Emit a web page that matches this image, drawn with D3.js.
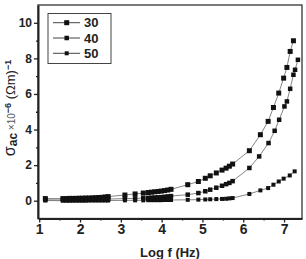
<!DOCTYPE html>
<html>
<head>
<meta charset="utf-8">
<script src="https://cdn.jsdelivr.net/npm/d3@7"></script>
<style>
  body { margin: 0; background: #fff; }
  svg { display: block; }
</style>
</head>
<body>
<svg id="chart" width="306" height="259"></svg>
<script>
// shared frequency points (log f) up to ~5.7
var logF = [1.15, 1.58, 1.66, 1.74, 1.82, 1.90, 1.98, 2.06, 2.14, 2.22, 2.30, 2.38, 2.46, 2.54, 2.62, 2.69,
            3.10, 3.35, 3.55, 3.67, 3.75, 3.83, 3.91, 3.99, 4.07, 4.15, 4.23,
            4.64, 4.90, 5.07, 5.19, 5.34, 5.48, 5.58, 5.66, 5.74];

var sigma30 = [0.12, 0.12, 0.12, 0.13, 0.13, 0.13, 0.14, 0.14, 0.15, 0.15, 0.16, 0.17, 0.18, 0.19, 0.21, 0.23,
               0.32, 0.38, 0.43, 0.46, 0.48, 0.50, 0.52, 0.54, 0.57, 0.60, 0.64,
               0.90, 1.08, 1.26, 1.40, 1.56, 1.72, 1.83, 1.94, 2.06];
var sigma40 = [0.05, 0.04, 0.04, 0.04, 0.05, 0.05, 0.05, 0.05, 0.06, 0.06, 0.06, 0.07, 0.07, 0.08, 0.08, 0.09,
               0.12, 0.13, 0.15, 0.16, 0.17, 0.18, 0.19, 0.20, 0.22, 0.24, 0.26,
               0.34, 0.43, 0.53, 0.62, 0.73, 0.84, 0.93, 1.00, 1.10];
var sigma50 = [0.01, 0.00, 0.00, 0.00, 0.00, 0.00, 0.00, 0.00, 0.00, 0.01, 0.01, 0.01, 0.01, 0.01, 0.01, 0.01,
               0.02, 0.02, 0.02, 0.03, 0.03, 0.03, 0.03, 0.03, 0.04, 0.04, 0.04,
               0.05, 0.06, 0.07, 0.08, 0.09, 0.10, 0.11, 0.13, 0.15];

// high frequency tails, each series its own points
var tailF30 = [6.15, 6.42, 6.61, 6.74, 6.87, 6.99, 7.07, 7.15, 7.23];
var tail30  = [2.81, 3.71, 4.46, 5.24, 6.05, 6.89, 7.49, 8.39, 8.99];
var tailF40 = [6.15, 6.39, 6.62, 6.77, 6.88, 7.01, 7.07, 7.15, 7.23, 7.27, 7.34];
var tail40  = [1.84, 2.49, 3.24, 3.93, 4.55, 5.30, 5.58, 6.29, 7.08, 7.36, 7.92];
var tailF50 = [6.15, 6.42, 6.61, 6.74, 6.87, 6.99, 7.14, 7.26];
var tail50  = [0.38, 0.58, 0.71, 0.90, 1.08, 1.24, 1.42, 1.65];

var seriesNames = ["30", "40", "50"];
var xTicks = [1, 2, 3, 4, 5, 6, 7];
var yTicks = [0, 2, 4, 6, 8, 10];

// build point lists
function pts(xs, ys){ return xs.map(function(x, i){ return {x: x, y: ys[i]}; }); }
var series = [
  {name: seriesNames[0], size: 5,   pts: pts(logF, sigma30).concat(pts(tailF30, tail30))},
  {name: seriesNames[1], size: 4.5, pts: pts(logF, sigma40).concat(pts(tailF40, tail40))},
  {name: seriesNames[2], size: 4,   pts: pts(logF, sigma50).concat(pts(tailF50, tail50))}
];

// plot area (don't call it "top", that's window.top)
var pLeft = 38, pRight = 302, pTop = 5, pBottom = 218.5;
var svg = d3.select("#chart");

var x = d3.scaleLinear().domain([0.97, 7.44]).range([pLeft, pRight]);
var y = d3.scaleLinear().domain([-1, 11]).range([pBottom, pTop]);

// frame
svg.append("rect")
  .attr("x", pLeft).attr("y", pTop)
  .attr("width", pRight - pLeft).attr("height", pBottom - pTop)
  .attr("fill", "none").attr("stroke", "#333").attr("stroke-width", 1.3);

// y axis, major + minor
var yAx = svg.append("g").attr("transform", "translate(" + pLeft + ",0)")
  .call(d3.axisLeft(y).tickValues(yTicks).tickFormat(d3.format("d")).tickSize(4).tickPadding(2).tickSizeOuter(0));
svg.append("g").attr("transform", "translate(" + pLeft + ",0)")
  .call(d3.axisLeft(y).tickValues([1, 3, 5, 7, 9]).tickSize(2).tickFormat("").tickSizeOuter(0))
  .select(".domain").remove();

// x axis, major + minor
var xAx = svg.append("g").attr("transform", "translate(0," + pBottom + ")")
  .call(d3.axisBottom(x).tickValues(xTicks).tickFormat(d3.format("d")).tickSize(4).tickPadding(2).tickSizeOuter(0));
svg.append("g").attr("transform", "translate(0," + pBottom + ")")
  .call(d3.axisBottom(x).tickValues([1.5, 2.5, 3.5, 4.5, 5.5, 6.5]).tickSize(2).tickFormat("").tickSizeOuter(0))
  .select(".domain").remove();

svg.selectAll(".domain").attr("stroke", "#222").attr("stroke-width", 2);
svg.selectAll(".tick line").attr("stroke", "#222").attr("stroke-width", 1.3);

yAx.selectAll("text")
  .attr("font-family", "Liberation Sans, Arial, sans-serif")
  .attr("font-weight", "bold").attr("font-size", 12).attr("fill", "#222");
xAx.selectAll("text")
  .attr("font-family", "Liberation Sans, Arial, sans-serif")
  .attr("font-weight", "bold").attr("font-size", 14).attr("fill", "#222");

// lines and markers
var line = d3.line().x(function(d){ return x(d.x); }).y(function(d){ return y(d.y); });
series.forEach(function(s){
  svg.append("path").datum(s.pts)
    .attr("d", line).attr("fill", "none")
    .attr("stroke", "#666").attr("stroke-width", 0.8);
});
series.forEach(function(s){
  svg.append("g").selectAll("rect").data(s.pts).enter().append("rect")
    .attr("x", function(d){ return x(d.x) - s.size / 2; })
    .attr("y", function(d){ return y(d.y) - s.size / 2; })
    .attr("width", s.size).attr("height", s.size)
    .attr("fill", "#111");
});

// legend
var lg = svg.append("g");
lg.append("rect").attr("x", 48).attr("y", 13.5).attr("width", 63).attr("height", 50)
  .attr("fill", "#fff").attr("stroke", "#444").attr("stroke-width", 1);
series.forEach(function(s, i){
  var ly = 22.7 + i * 15.3;
  lg.append("line").attr("x1", 53).attr("x2", 80).attr("y1", ly).attr("y2", ly)
    .attr("stroke", "#444").attr("stroke-width", 1);
  lg.append("rect").attr("x", 66.7 - s.size / 2).attr("y", ly - s.size / 2)
    .attr("width", s.size).attr("height", s.size).attr("fill", "#111");
  lg.append("text").attr("x", 84).attr("y", ly + 4.5)
    .attr("font-family", "Liberation Sans, Arial, sans-serif")
    .attr("font-weight", "bold").attr("font-size", 13).attr("fill", "#222")
    .text(s.name);
});

// axis titles
svg.append("text").attr("x", 170).attr("y", 257).attr("text-anchor", "middle")
  .attr("font-family", "Liberation Sans, Arial, sans-serif")
  .attr("font-weight", "bold").attr("font-size", 13).attr("fill", "#222")
  .text("Log f (Hz)");

var yt = svg.append("text").attr("transform", "translate(15,108) rotate(-90)")
  .attr("text-anchor", "middle")
  .attr("font-family", "Liberation Sans, Arial, sans-serif").attr("fill", "#222");
yt.append("tspan").attr("font-size", 16).text("σ");
yt.append("tspan").attr("font-size", 12).attr("font-weight", "bold").attr("dy", 2).text("ac");
yt.append("tspan").attr("font-size", 10).attr("dy", -2).attr("fill", "#555").text(" ×10");
yt.append("tspan").attr("font-size", 9).attr("font-weight", "bold").attr("dy", -4).text("−6");
yt.append("tspan").attr("font-size", 13).attr("dy", 4).text(" (Ωm)");
yt.append("tspan").attr("font-size", 9).attr("font-weight", "bold").attr("dy", -4).text("−1");
</script>
</body>
</html>
